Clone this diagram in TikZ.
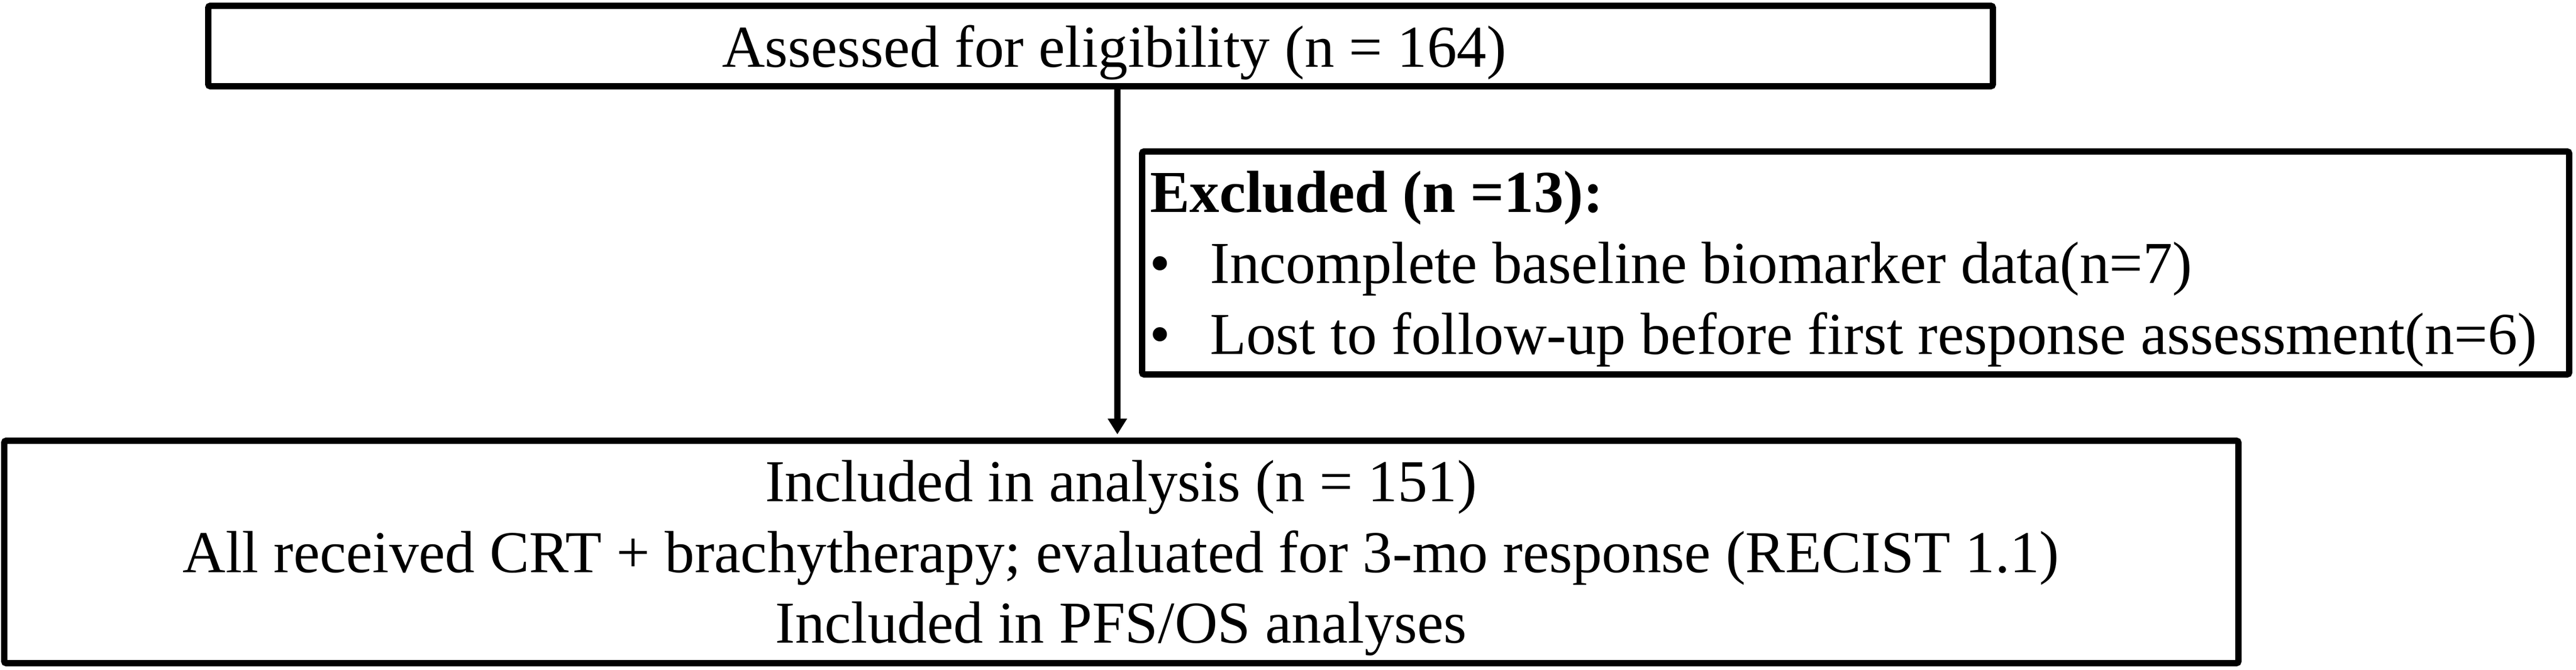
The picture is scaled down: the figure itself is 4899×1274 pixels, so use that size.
\documentclass[tikz,border=0pt]{standalone}
\usepackage{fontspec}
\setmainfont{Liberation Serif}
\usetikzlibrary{arrows.meta}
\begin{document}
\begin{tikzpicture}[x=0.5pt,y=-0.5pt,
  boxnode/.style={draw=black,line width=6pt,rounded corners=2pt,inner sep=0pt,fill=white},
  txt/.style={inner sep=0pt,font=\fontsize{56.5}{67.5}\selectfont},
  arr/.style={line width=6pt,-{Triangle[width=17.5pt,length=15pt]}}]
\useasboundingbox (0,0) rectangle (4899,1274);
\fill[white] (0,0) rectangle (4899,1274);
% boxes
\node[boxnode,minimum width=1697pt,minimum height=76.5pt] (top) at (2093,87.5) {};
\node[boxnode,minimum width=1357pt,minimum height=212pt] (excl) at (3529,500) {};
\node[boxnode,minimum width=2124.5pt,minimum height=211.5pt] (incl) at (2132.5,1049.5) {};
% texts
\node[txt,anchor=base] (toptxt) at (2119,127) {Assessed for eligibility (n = 164)};
\node[txt,anchor=base west] (exh) at (2187,403) {\textbf{Excluded (n =13):}};
\node[txt,anchor=base] (b1) at (2206,538) {•};
\node[txt,anchor=base west] (e1) at (2301,538) {Incomplete baseline biomarker data(n=7)};
\node[txt,anchor=base] (b2) at (2206,673) {•};
\node[txt,anchor=base west] (e2) at (2301,673) {Lost to follow-up before first response assessment(n=6)};
\node[txt,anchor=base] (i1) at (2132,953) {Included in analysis (n = 151)};
\node[txt,anchor=base] (i2) at (2132,1088) {All received CRT + brachytherapy; evaluated for 3-mo response (RECIST 1.1)};
\node[txt,anchor=base] (i3) at (2132,1222) {Included in PFS/OS analyses};
% arrow
\coordinate (ax) at (2125,0);
\draw[arr,shorten >=3pt] (top.south -| ax) -- (incl.north -| ax);
\end{tikzpicture}
\end{document}
